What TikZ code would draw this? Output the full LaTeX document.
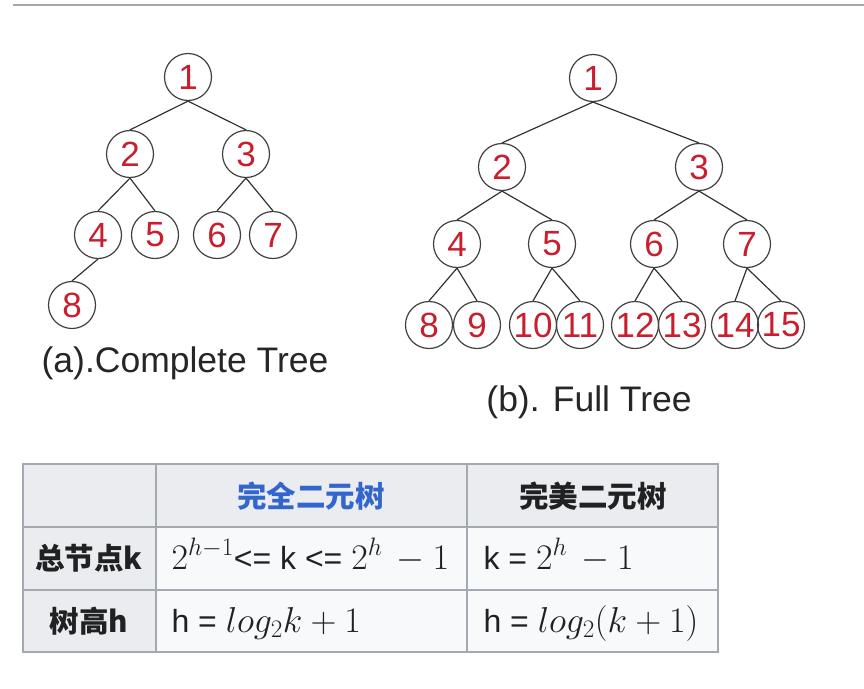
\RequirePackage{fix-cm}
\documentclass[tikz,border=0pt]{standalone}
\usepackage{fontspec}
\setmainfont{Liberation Sans}
\newfontfamily\cjk{Noto Sans CJK SC}
\definecolor{numred}{RGB}{200,30,45}
\definecolor{rulegray}{HTML}{A2A9B1}
\definecolor{headgray}{HTML}{EAECF0}
\definecolor{cellgray}{HTML}{F8F9FA}
\definecolor{linkblue}{HTML}{3366CC}
\definecolor{ink}{HTML}{202122}
\newcommand{\mth}[1]{{\fontsize{36}{40}\selectfont$#1$}}

\begin{document}
\begin{tikzpicture}[
				x=1pt, y=-1pt,
				vert/.style = {draw=black!75, line width=1.2pt, circle, minimum size=47pt, inner sep=0pt, text=numred, font=\fontsize{35}{35}\selectfont},
				edge/.style = {draw=black!80, line width=1.2pt},
				caption/.style = {font=\fontsize{35.5}{38}\selectfont, text=black!85},
				head/.style = {draw=rulegray, line width=1.5pt, fill=headgray},
				cell/.style = {draw=rulegray, line width=1.5pt, fill=cellgray},
				htext/.style = {font=\cjk\bfseries\fontsize{29.5}{34}\selectfont, text=ink},
				dtext/.style = {anchor=base west, font=\fontsize{32}{36}\selectfont, text=ink}
			]
			\useasboundingbox (0,0) rectangle (864,688);
			\draw[rulegray, line width=2pt] (13,5) -- (864,5);
			% (a) complete tree
			\node[vert] (a1) at (188,77) {1};
			\node[vert] (a2) at (130,154) {2};
			\node[vert] (a3) at (246,154) {3};
			\node[vert] (a4) at (98,235) {4};
			\node[vert] (a5) at (155,235) {5};
			\node[vert] (a6) at (217,235) {6};
			\node[vert] (a7) at (273,235) {7};
			\node[vert] (a8) at (72,305) {8};
			\node[caption] (acap) at (185,363) {(a).Complete Tree};
			\draw[edge] (a1.south) -- (a2.north);
			\draw[edge] (a1.south) -- (a3.north);
			\draw[edge] (a2.south) -- (a4.north);
			\draw[edge] (a2.south) -- (a5.north);
			\draw[edge] (a3.south) -- (a6.north);
			\draw[edge] (a3.south) -- (a7.north);
			\draw[edge] (a4.south) -- (a8.north);
			% (b) full tree
			\node[vert] (b1) at (593,78) {1};
			\node[vert] (b2) at (502,167) {2};
			\node[vert] (b3) at (699,167) {3};
			\node[vert] (b4) at (457,244) {4};
			\node[vert] (b5) at (552,244) {5};
			\node[vert] (b6) at (654,244) {6};
			\node[vert] (b7) at (747,244) {7};
			\node[vert] (b8) at (429,325) {8};
			\node[vert] (b9) at (477,325) {9};
			\node[vert] (b10) at (533,325) {10};
			\node[vert] (b11) at (580,325) {11};
			\node[vert] (b12) at (635,325) {12};
			\node[vert] (b13) at (682,325) {13};
			\node[vert] (b14) at (735,325) {14};
			\node[vert] (b15) at (781,325) {15};
			\node[caption] (bcap) at (589,402) {(b). Full Tree};
			\draw[edge] (b1.south) -- (b2.north);
			\draw[edge] (b1.south) -- (b3.north);
			\draw[edge] (b2.south) -- (b4.north);
			\draw[edge] (b2.south) -- (b5.north);
			\draw[edge] (b3.south) -- (b6.north);
			\draw[edge] (b3.south) -- (b7.north);
			\draw[edge] (b4.south) -- (b8.north);
			\draw[edge] (b4.south) -- (b9.north);
			\draw[edge] (b5.south) -- (b10.north);
			\draw[edge] (b5.south) -- (b11.north);
			\draw[edge] (b6.south) -- (b12.north);
			\draw[edge] (b6.south) -- (b13.north);
			\draw[edge] (b7.south) -- (b14.north);
			\draw[edge] (b7.south) -- (b15.north);
			% table
			\path[head] (23,464) rectangle (156,527);
			\path[head] (156,464) rectangle (467,527);
			\path[head] (467,464) rectangle (718,527);
			\path[head] (23,527) rectangle (156,590);
			\path[head] (23,590) rectangle (156,652);
			\path[cell] (156,527) rectangle (467,590);
			\path[cell] (467,527) rectangle (718,590);
			\path[cell] (156,590) rectangle (467,652);
			\path[cell] (467,590) rectangle (718,652);
			\node[htext, text=linkblue] (perfhd) at (311,496) {完全二元树};
			\node[htext] (fullhd) at (593,496) {完美二元树};
			\node[htext] (numhd) at (89,558) {总节点k};
			\node[htext] (hgthd) at (89,621) {树高h};
			\node[dtext] (numa) at (168,569) {\mth{2^{h-1}}<= k <= \mth{2^h\,-1}};
			\node[dtext] (numb) at (480,569) {k = \mth{2^h\,-1}};
			\node[dtext] (hgta) at (168,632) {h = \mth{log_2k+1}};
			\node[dtext] (hgtb) at (480,632) {h = \mth{log_2(k+1)}};
		\end{tikzpicture}
\end{document}
